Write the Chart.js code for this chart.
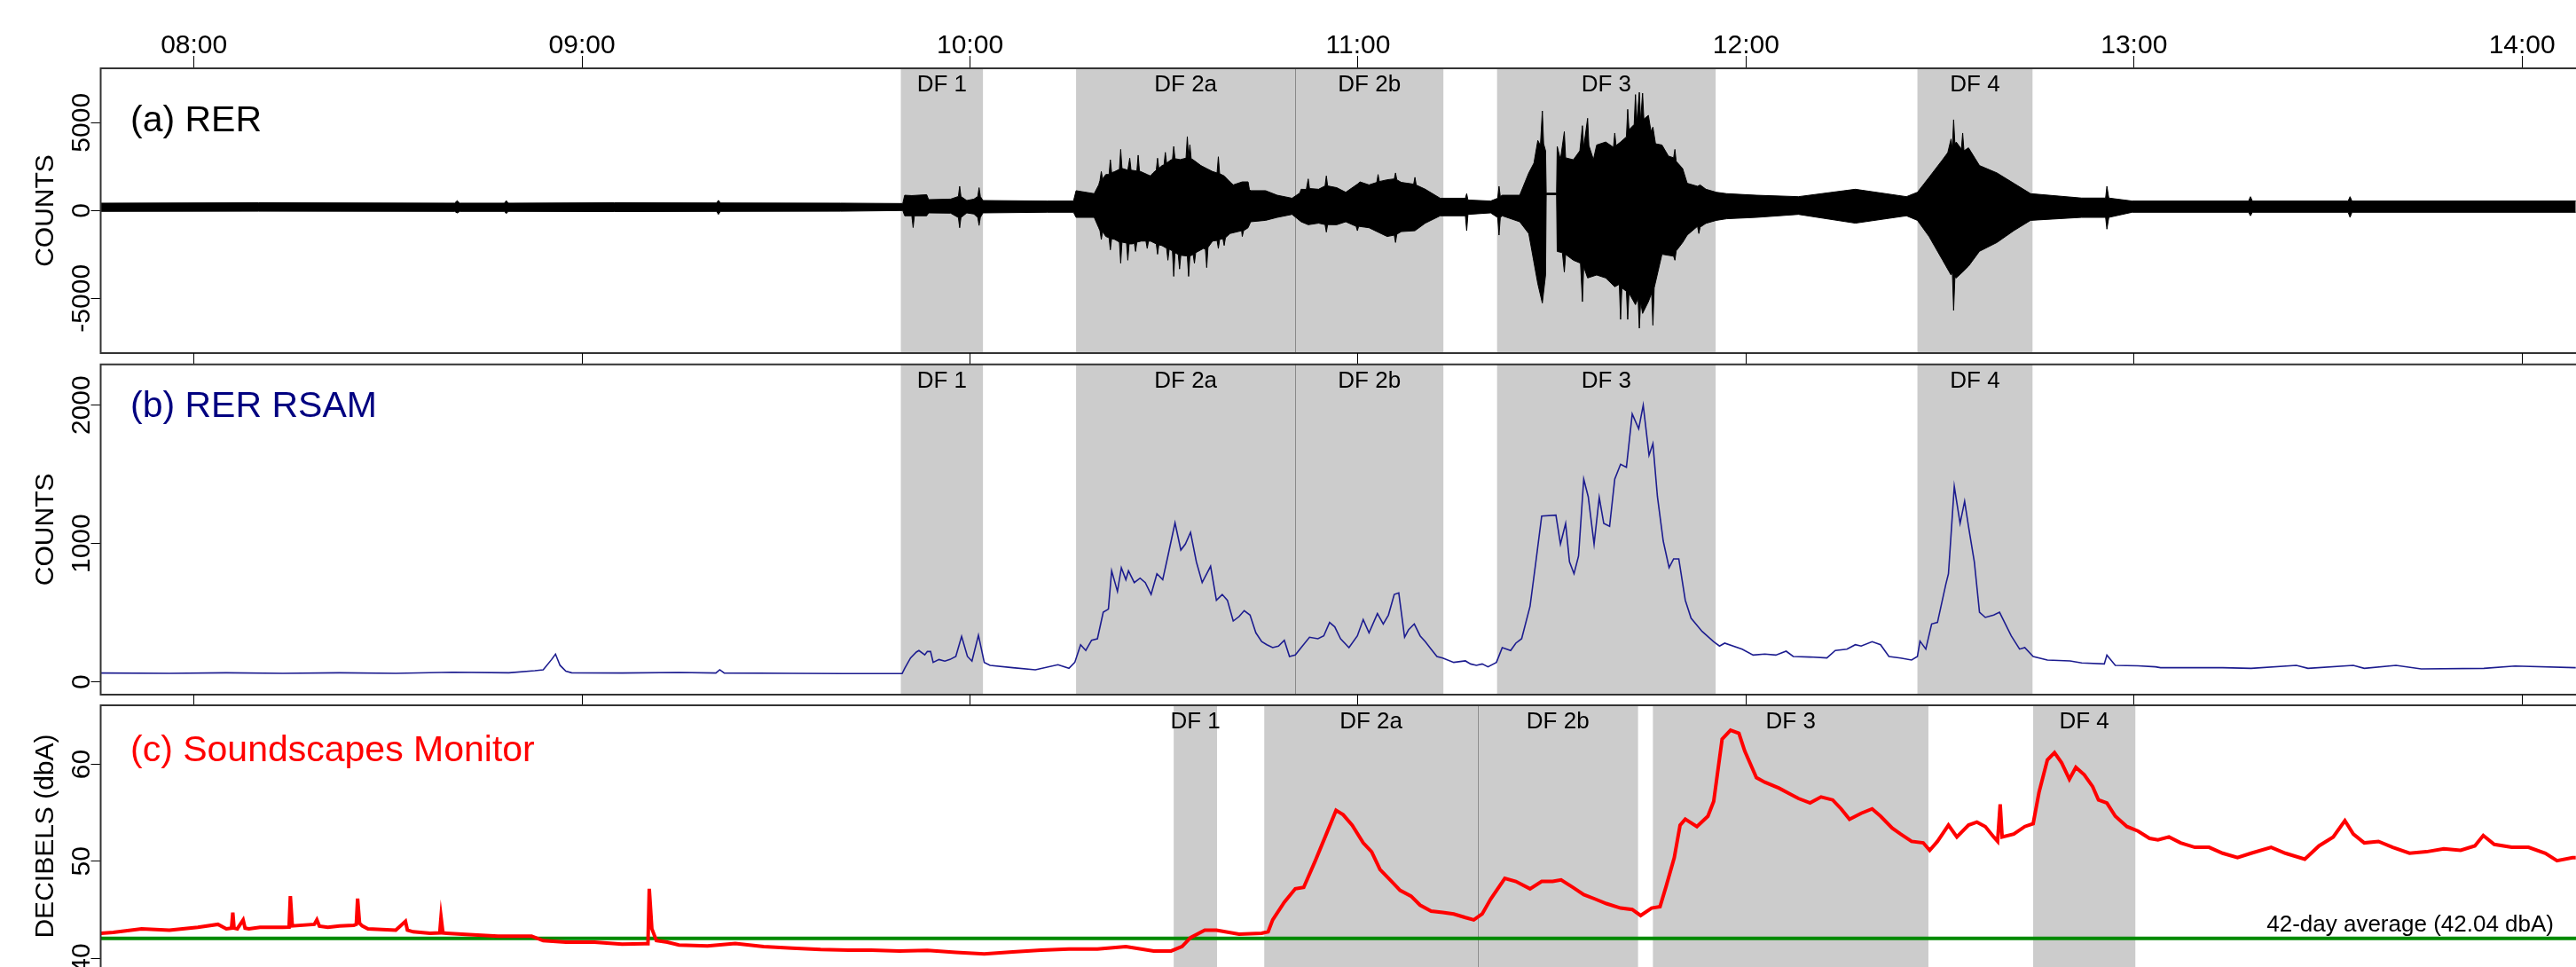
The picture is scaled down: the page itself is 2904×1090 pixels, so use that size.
<!DOCTYPE html>
<html>
<head>
<meta charset="utf-8">
<script src="https://cdn.jsdelivr.net/npm/chart.js@4.4.1/dist/chart.umd.min.js"></script>
<style>
  body { margin: 0; background: #fff; width: 2904px; height: 1090px; overflow: hidden; position: relative; }
  .panel { position: absolute; left: 0; width: 2904px; }
</style>
</head>
<body>
<div class="panel" style="top:0;height:400px"><canvas id="rerChart"></canvas></div>
<div class="panel" style="top:398px;height:387px"><canvas id="rsamChart"></canvas></div>
<div class="panel" style="top:783px;height:307px"><canvas id="soundChart"></canvas></div>

<script>
// time axis, minutes after midnight
const hourTicks = [480, 540, 600, 660, 720, 780, 840];
const hourLabels = ['08:00', '09:00', '10:00', '11:00', '12:00', '13:00', '14:00'];
const xMin = 465.57;
const xMax = 848.34;

// debris flow windows (minutes)
const dfNames = ['DF 1', 'DF 2a', 'DF 2b', 'DF 3', 'DF 4'];
const dfSeisStart = [589.3, 616.4, 650.3, 681.5, 746.5];
const dfSeisEnd = [602.0, 650.3, 673.2, 715.3, 764.3];
const dfSoundStart = [631.5, 645.5, 678.5, 705.6, 764.4];
const dfSoundEnd = [638.2, 678.5, 703.3, 748.2, 780.2];

// (a) RER seismogram, upper envelope (counts)
const rerUpTime = [
  465.6, 490.0, 520.3, 520.7, 521.1, 528.0, 528.3, 528.6, 545.0, 560.8,
  561.1, 561.4, 580.0, 589.6, 589.9, 591.0, 593.3, 593.6, 597.0, 598.2,
  598.4, 598.6, 599.5, 600.6, 601.2, 601.4, 601.6, 602.0, 611.9, 616.0,
  616.4, 619.2, 619.9, 620.1, 620.3, 620.5, 621.0, 621.5, 621.7, 621.9,
  622.4, 623.1, 623.3, 623.5, 624.4, 624.7, 624.9, 625.8, 626.0, 626.2,
  627.4, 627.9, 628.3, 628.8, 629.0, 629.2, 629.7, 630.0, 630.2, 630.4,
  631.1, 631.3, 631.5, 631.7, 632.5, 633.4, 633.6, 633.8, 634.0, 634.2,
  634.5, 635.7, 636.6, 637.5, 638.2, 638.4, 638.6, 639.3, 640.2, 640.7,
  642.1, 643.0, 643.2, 643.4, 645.7, 647.5, 649.8,
  651.0, 651.2, 652.0, 652.3, 652.5, 653.9, 654.9, 655.1, 655.3, 656.7,
  658.1, 659.9, 660.3, 661.7, 662.9, 663.1, 663.3, 664.5, 665.6, 665.8,
  666.0, 666.7, 668.6, 668.8, 669.0, 670.4, 672.7,
  676.6, 676.8, 677.0, 680.5, 681.6, 681.8, 682.0, 682.3, 685.0, 686.4,
  687.2, 687.8, 688.2, 688.5, 688.7, 689.0, 689.1, 690.7,
  690.8, 691.3, 691.9, 692.1, 693.3, 694.3, 694.7, 694.9, 695.5, 695.7,
  696.4, 696.9, 698.3, 699.5, 699.7, 699.9, 700.6, 701.5, 701.7, 701.9,
  702.7, 702.9, 703.1, 703.5, 703.7, 704.0, 704.2, 704.9, 705.3, 705.6,
  706.0, 707.0, 708.0, 708.8, 709.0, 709.2, 710.2, 710.9, 712.5, 712.9,
  713.8, 715.4, 717.0, 721.6, 728.1, 736.9, 744.8,
  746.5, 748.3, 750.4, 751.2, 751.7, 751.9, 752.1, 752.3, 752.5, 753.3,
  753.5, 753.7, 754.4, 756.1, 758.8, 761.4, 764.0,
  771.9, 775.6, 775.8, 776.1, 779.7, 797.7, 798.0, 798.3, 813.1, 813.4,
  813.7, 848.3
];
const rerUp = [
  420, 440, 420, 560, 420, 420, 560, 420, 440, 430,
  580, 430, 420, 400, 870, 850, 900, 620, 650, 800,
  1380, 800, 570, 650, 800, 1300, 800, 570, 540, 540,
  1130, 960, 1460, 1715, 2220, 1800, 2050, 2050, 2890, 2150,
  2220, 2350, 3480, 2400, 2300, 2980, 2300, 2250, 3150, 2250,
  2050, 1970, 2140, 2300, 2980, 2400, 2560, 2600, 3310, 2700,
  2890, 2890, 3650, 2950, 2900, 2980, 4210, 3000, 3740, 2950,
  2890, 2560, 2390, 2220, 2140, 3060, 2100, 1970, 1630, 1460,
  1630, 1630, 1200, 1130, 1130, 870, 700,
  1000, 1210, 1200, 1800, 1250, 1210, 1400, 1970, 1400, 1300,
  1040, 1500, 1630, 1460, 1600, 2050, 1650, 1750, 1800, 2140,
  1750, 1600, 1500, 1890, 1450, 1210, 700,
  700, 960, 600, 540, 700, 1380, 800, 870, 870, 2140,
  2700, 3990, 3700, 5670, 3800, 3400, 990, 990,
  3650, 2900, 4490, 3000, 2890, 3400, 4830, 3600, 5250, 3700,
  2900, 3730, 3900, 3600, 4410, 3700, 3900, 4200, 5760, 4600,
  4900, 6600, 5000, 6730, 5100, 6680, 5200, 5420, 4500, 4750,
  3800, 3730, 3100, 3000, 3480, 2800, 2390, 1550, 1380, 1460,
  1210, 1040, 960, 870, 790, 1210, 790,
  1040, 1890, 2900, 3300, 4070, 3500, 5170, 3800, 3900, 3500,
  4410, 3400, 3570, 2560, 2140, 1550, 960,
  710, 710, 1380, 710, 540, 540, 790, 540, 540, 790,
  540, 540
];

// (a) lower envelope (counts)
const rerDownTime = [
  465.6, 490.0, 520.3, 520.7, 521.1, 528.0, 528.3, 528.6, 545.0, 560.8,
  561.1, 561.4, 580.0, 589.6, 589.9, 591.0, 591.2, 591.4, 593.3, 593.6,
  597.0, 598.2, 598.4, 598.6, 599.5, 600.6, 601.2, 601.4, 601.6, 602.0,
  611.9, 616.0,
  616.4, 619.2, 619.9, 620.1, 620.3, 620.5, 621.0, 621.5, 621.7, 621.9,
  622.4, 623.1, 623.3, 623.5, 624.2, 624.4, 624.6, 625.1, 625.4, 625.6,
  625.8, 626.5, 627.2, 627.4, 627.6, 627.9, 628.8, 629.0, 629.2, 629.7,
  630.4, 630.6, 630.8, 631.3, 631.5, 631.7, 632.2, 632.4, 632.6, 633.4,
  633.6, 633.8, 634.0, 634.5, 634.7, 634.9, 636.1, 636.4, 636.6, 636.8,
  637.5, 638.2, 638.4, 638.6, 639.1, 639.3, 639.5, 640.2, 642.0, 642.1,
  642.3, 643.0, 643.4, 645.7, 647.5, 649.8,
  651.2, 652.3, 653.9, 654.9, 655.1, 655.3, 656.7, 658.1, 659.7, 659.9,
  660.1, 661.7, 663.1, 664.5, 665.6, 665.8, 666.0, 666.7, 668.8, 670.4,
  672.7,
  676.6, 676.8, 677.0, 680.5, 681.6, 681.8, 682.0, 682.3, 685.0, 686.4,
  687.8, 688.5, 689.0, 689.1, 690.7,
  690.8, 691.6, 691.9, 692.1, 693.3, 694.4, 694.7, 694.9, 695.5, 696.9,
  698.3, 699.7, 700.4, 700.6, 700.8, 701.5, 701.7, 701.9, 702.9, 703.3,
  703.5, 703.7, 704.0, 704.9, 705.4, 705.6, 705.8, 707.0, 708.8, 709.0,
  709.2, 710.2, 710.9, 712.5, 712.7, 712.9, 713.8, 715.4, 717.0, 721.6,
  728.1, 736.9, 744.8,
  746.5, 748.3, 750.4, 751.7, 751.9, 752.1, 752.3, 752.5, 753.5, 754.4,
  756.1, 758.8, 761.4, 764.0,
  771.9, 775.6, 775.8, 776.1, 779.7, 797.7, 798.0, 798.3, 813.1, 813.4,
  813.7, 848.3
];
const rerDown = [
  -50, -40, -50, -140, -50, -50, -170, -50, -60, -50,
  -220, -50, -40, 0, -300, -300, -970, -300, -300, -135,
  -150, -400, -980, -400, -135, -200, -400, -850, -400, -135,
  -100, -100,
  -390, -390, -980, -1150, -1650, -1200, -1480, -1550, -2240, -1600,
  -1650, -1800, -3000, -1800, -1850, -2830, -1900, -1900, -1850, -2330,
  -1800, -1740, -1740, -2160, -1750, -1740, -1900, -2490, -1950, -2000,
  -2150, -2830, -2200, -2300, -3750, -2400, -2500, -3330, -2550, -2580,
  -2580, -3750, -2600, -2500, -3000, -2400, -2160, -2200, -3250, -2100,
  -1740, -1700, -2160, -1650, -1600, -1990, -1550, -1310, -1150, -1480,
  -1150, -980, -640, -560, -390, -220,
  -640, -810, -720, -800, -1230, -800, -810, -640, -900, -1150,
  -900, -980, -1230, -1480, -1400, -1820, -1350, -1200, -1150, -720,
  -300,
  -300, -1150, -220, -135, -400, -1400, -400, -300, -640, -1310,
  -4170, -5270, -3670, 900, 900,
  -2330, -2400, -3500, -2500, -2830, -3000, -5190, -3200, -3840, -3670,
  -3840, -4340, -4200, -6200, -4400, -4600, -6200, -4700, -5360, -5000,
  -6700, -5200, -5860, -5190, -4700, -6530, -4400, -2490, -2600, -2830,
  -2300, -1820, -1400, -900, -1310, -950, -730, -560, -470, -390,
  -220, -720, -300,
  -560, -1480, -2830, -3670, -3500, -5690, -3800, -3840, -3500, -3170,
  -2320, -1820, -1150, -560,
  -390, -390, -1060, -390, -100, -100, -300, -100, -100, -390,
  -100, -100
];

// (b) RER RSAM (counts)
const rsamTime = [
  465.6, 476.2, 485.0, 493.7, 502.5, 511.2, 520.0, 528.7, 532.7, 534.0,
  535.3, 535.9, 536.6, 537.5, 538.4, 546.2, 555.0, 560.7, 561.3, 562.0,
  572.5, 580.3, 589.5, 589.9, 590.8, 591.7, 592.1, 593.0, 593.4, 593.9,
  594.3, 595.2, 596.1, 596.9, 597.8, 598.7, 599.6, 600.3, 601.3, 602.2,
  603.1, 606.6, 610.1, 613.6, 615.3, 616.2, 617.1, 617.9, 618.8, 619.7,
  620.6, 621.4, 621.9, 622.8, 623.4, 624.1, 624.5, 625.4, 626.3, 627.1,
  628.0, 628.9, 629.8, 630.6, 631.7, 632.6, 633.3, 634.1, 635.0, 635.9,
  637.2, 638.1, 639.0, 639.8, 640.7, 641.6, 642.4, 643.3, 644.2, 645.1,
  645.9, 646.8, 647.7, 648.6, 649.4, 650.3, 651.2, 652.5, 653.8, 654.7,
  655.6, 656.4, 657.3, 658.6, 659.9, 660.8, 661.7, 663.0, 663.9, 664.7,
  665.6, 666.3, 667.2, 667.8, 668.7, 669.6, 670.4, 671.3, 672.2, 673.1,
  674.8, 676.6, 677.4, 678.3, 679.2, 680.1, 681.4, 682.3, 683.6, 684.4,
  685.3, 686.6, 687.5, 688.4, 690.6, 691.3, 692.1, 692.7, 693.4, 694.1,
  694.9, 695.6, 696.5, 697.3, 698.0, 698.9, 699.7, 700.6, 701.5, 702.4,
  703.4, 704.1, 705.0, 705.6, 706.3, 707.2, 708.1, 708.8, 709.6, 710.6,
  711.5, 713.2, 715.0, 715.9, 716.7, 719.4, 721.1, 722.9, 724.6, 726.2,
  727.3, 729.9, 732.5, 733.8, 735.6, 736.9, 737.8, 739.5, 740.8, 742.1,
  743.9, 745.6, 746.5, 746.9, 747.8, 748.7, 749.6, 750.9, 751.3, 752.2,
  753.1, 753.8, 754.4, 755.3, 756.1, 757.0, 758.3, 759.2, 760.1, 761.0,
  762.3, 763.1, 764.4, 766.6, 770.1, 771.9, 775.4, 775.8, 777.1, 780.6,
  783.3, 784.1, 793.7, 798.1, 805.1, 806.9, 813.9, 815.6, 820.5, 824.4,
  834.1, 838.9, 848.3
];
const rsamValue = [
  64, 62, 66, 62, 66, 62, 70, 66, 81, 88,
  162, 201, 120, 77, 66, 64, 68, 64, 88, 64,
  62, 60, 60, 98, 173, 216, 227, 195, 220, 220,
  141, 162, 150, 162, 184, 329, 184, 150, 338, 141,
  120, 103, 88, 124, 98, 141, 269, 227, 301, 312,
  504, 526, 803, 654, 825, 739, 803, 718, 750, 718,
  632, 782, 739, 910, 1150, 953, 996, 1081, 868, 718,
  836, 590, 632, 590, 440, 472, 515, 483, 355, 291,
  269, 248, 259, 301, 184, 195, 248, 323, 312, 333,
  430, 398, 312, 248, 333, 451, 355, 494, 419, 483,
  632, 643, 323, 376, 419, 333, 291, 237, 184, 173,
  141, 152, 130, 120, 130, 109, 141, 248, 227, 280,
  312, 547, 868, 1199, 1205, 996, 1145, 868, 782, 910,
  1466, 1338, 996, 1333, 1145, 1124, 1466, 1573, 1551, 1936,
  1829, 2000, 1638, 1722, 1338, 1017, 825, 889, 889, 591,
  461, 365, 290, 259, 280, 237, 194, 201, 194, 222,
  184, 180, 173, 227, 237, 269, 259, 291, 269, 184,
  173, 158, 184, 295, 237, 419, 430, 707, 782, 1413,
  1145, 1306, 1124, 868, 504, 466, 483, 504, 419, 333,
  237, 248, 184, 158, 152, 137, 130, 194, 120, 116,
  109, 103, 103, 98, 120, 98, 120, 98, 120, 94,
  98, 115, 103
];

// (c) Soundscapes monitor (dbA)
const soundTime = [
  465.6, 467.5, 471.9, 476.2, 480.6, 483.7, 485.0, 485.8, 486.0, 486.2,
  486.7, 487.6, 487.9, 488.5, 490.2, 493.7, 494.7, 494.9, 495.2, 498.6,
  499.0, 499.4, 500.7, 502.5, 504.7, 505.1, 505.3, 505.6, 506.0, 506.9,
  511.2, 512.7, 513.0, 513.9, 516.5, 518.0, 518.2, 518.5, 519.1, 522.6,
  527.0, 528.7, 532.2, 534.0, 537.5, 541.9, 546.2, 549.7, 550.2, 550.4,
  550.8, 551.5, 553.2, 555.0, 559.4, 563.7, 568.1, 572.5, 576.9, 581.2,
  584.7, 589.1, 593.4, 597.8, 602.2, 606.6, 611.0, 615.3, 619.7, 624.1,
  628.4, 631.1, 632.8, 634.1, 636.3, 638.1, 641.6, 645.1, 646.1, 646.8,
  648.6, 650.3, 651.6, 653.4, 655.1, 656.6, 657.7, 659.1, 660.8, 662.1,
  663.4, 665.2, 666.5, 668.2, 669.6, 671.3, 673.1, 674.8, 676.6, 677.9,
  679.2, 680.5, 682.7, 684.4, 686.6, 688.4, 690.1, 691.4, 693.2, 694.9,
  696.7, 698.4, 700.6, 702.4, 703.7, 705.4, 706.7, 707.6, 708.9, 709.8,
  710.6, 712.4, 714.1, 715.0, 716.3, 717.6, 718.9, 719.8, 721.6, 722.9,
  725.1, 726.8, 728.1, 729.9, 731.6, 733.4, 734.7, 736.0, 737.8, 739.5,
  740.8, 742.6, 743.9, 745.6, 747.4, 748.4, 749.6, 751.3, 752.6, 754.4,
  755.7, 757.0, 758.3, 758.9, 759.3, 759.6, 761.4, 763.1, 764.4, 765.3,
  766.6, 767.7, 768.8, 770.0, 771.0, 772.3, 773.6, 774.5, 775.8, 777.1,
  778.9, 780.6, 782.4, 783.7, 785.4, 787.2, 789.4, 791.6, 793.7, 796.0,
  798.1, 801.2, 803.4, 806.4, 808.6, 810.8, 812.6, 813.9, 815.6, 817.8,
  820.0, 822.6, 825.2, 827.9, 830.5, 832.7, 834.0, 835.7, 838.4, 841.0,
  843.6, 845.4, 847.8, 848.3
];
const soundDb = [
  42.57, 42.66, 43.03, 42.88, 43.18, 43.49, 43.03, 43.10, 44.71, 43.10,
  43.03, 43.95, 43.10, 43.03, 43.18, 43.18, 43.20, 46.40, 43.33, 43.49,
  43.95, 43.30, 43.18, 43.33, 43.39, 43.50, 46.15, 43.60, 43.33, 43.03,
  42.88, 43.80, 42.90, 42.72, 42.57, 42.60, 44.25, 42.60, 42.57, 42.42,
  42.27, 42.27, 42.27, 41.81, 41.65, 41.65, 41.44, 41.50, 41.50, 47.16,
  43.03, 41.81, 41.65, 41.35, 41.26, 41.50, 41.20, 41.04, 40.89, 40.83,
  40.83, 40.74, 40.80, 40.59, 40.44, 40.65, 40.83, 40.95, 40.95, 41.20,
  40.74, 40.74, 41.20, 42.12, 42.88, 42.88, 42.48, 42.57, 42.72, 43.95,
  45.78, 47.16, 47.31, 50.06, 52.81, 55.26, 54.80, 53.73, 51.90, 50.98,
  49.15, 47.92, 47.00, 46.40, 45.47, 44.86, 44.71, 44.56, 44.19, 43.95,
  44.56, 46.09, 48.23, 47.92, 47.16, 47.92, 47.92, 48.08, 47.31, 46.55,
  46.09, 45.63, 45.17, 45.02, 44.40, 45.17, 45.32, 47.31, 50.37, 53.73,
  54.34, 53.58, 54.65, 56.18, 62.60, 63.52, 63.21, 61.38, 58.63, 58.16,
  57.55, 56.94, 56.48, 56.02, 56.64, 56.33, 55.41, 54.34, 54.95, 55.41,
  54.65, 53.42, 52.81, 52.05, 51.90, 51.13, 52.05, 53.73, 52.51, 53.73,
  54.04, 53.58, 52.51, 52.05, 55.87, 52.51, 52.81, 53.58, 53.88, 57.10,
  60.46, 61.22, 60.16, 58.47, 59.69, 58.93, 57.71, 56.33, 56.02, 54.65,
  53.58, 53.12, 52.36, 52.20, 52.51, 51.90, 51.44, 51.44, 50.83, 50.37,
  50.83, 51.44, 50.83, 50.21, 51.59, 52.51, 54.19, 52.81, 51.90, 52.05,
  51.44, 50.83, 50.98, 51.29, 51.13, 51.59, 52.66, 51.74, 51.44, 51.44,
  50.83, 50.06, 50.37, 50.37
];
const avgDb = 42.04;

const FONT = '"Liberation Sans", Arial, Helvetica, sans-serif';

function pts(xs, ys) {
  return xs.map((x, i) => ({ x: x, y: ys[i] }));
}

// shading, frame and all the R-style text
function panelPlugin(opt) {
  return {
    id: 'panel',
    beforeDraw(chart) {
      const { ctx, chartArea: a, scales: { x } } = chart;
      ctx.save();
      ctx.fillStyle = '#cccccc';
      opt.starts.forEach((s, i) => {
        const x1 = x.getPixelForValue(s);
        const x2 = x.getPixelForValue(opt.ends[i]);
        ctx.fillRect(x1, a.top, x2 - x1, a.bottom - a.top);
      });
      // split between DF 2a and DF 2b
      const xb = Math.round(x.getPixelForValue(opt.ends[1])) + 0.5;
      ctx.strokeStyle = '#8a8a8a';
      ctx.lineWidth = 1;
      ctx.beginPath();
      ctx.moveTo(xb, a.top);
      ctx.lineTo(xb, a.bottom);
      ctx.stroke();
      ctx.restore();
    },
    afterDraw(chart) {
      const { ctx, chartArea: a, scales: { x, y } } = chart;
      ctx.save();
      ctx.strokeStyle = '#333';
      ctx.lineWidth = 2;
      ctx.beginPath();
      ctx.moveTo(a.right, a.top);
      ctx.lineTo(a.left, a.top);
      ctx.lineTo(a.left, a.bottom);
      if (opt.bottomLine) ctx.lineTo(a.right, a.bottom);
      ctx.stroke();

      ctx.fillStyle = '#000';
      ctx.textAlign = 'center';
      ctx.textBaseline = 'alphabetic';
      ctx.font = '26px ' + FONT;
      dfNames.forEach((n, i) => {
        const xc = (x.getPixelForValue(opt.starts[i]) + x.getPixelForValue(opt.ends[i])) / 2;
        ctx.fillText(n, xc, a.top + 26);
      });

      ctx.font = '30px ' + FONT;
      opt.yTicks.forEach(v => {
        ctx.save();
        ctx.translate(101, y.getPixelForValue(v));
        ctx.rotate(-Math.PI / 2);
        ctx.fillText(String(v), 0, 0);
        ctx.restore();
      });
      ctx.save();
      ctx.translate(60, (a.top + a.bottom) / 2);
      ctx.rotate(-Math.PI / 2);
      ctx.fillText(opt.title, 0, 0);
      ctx.restore();

      ctx.font = '41px ' + FONT;
      ctx.textAlign = 'left';
      ctx.fillStyle = opt.labelColor;
      ctx.fillText(opt.label, 147, a.top + opt.labelDy);

      if (opt.extra) opt.extra(chart);
      ctx.restore();
    }
  };
}

function makeChart(id, opt, datasets) {
  return new Chart(document.getElementById(id), {
    type: 'line',
    data: { datasets: datasets },
    options: {
      responsive: true,
      maintainAspectRatio: false,
      animation: false,
      layout: { padding: { left: 0, right: 0, top: 0, bottom: opt.padBottom } },
      plugins: { legend: { display: false }, tooltip: { enabled: false } },
      elements: { point: { radius: 0 }, line: { tension: 0 } },
      scales: {
        x: {
          type: 'linear',
          position: 'top',
          min: xMin,
          max: xMax,
          afterBuildTicks: s => { s.ticks = hourTicks.map(v => ({ value: v })); },
          afterFit: s => { s.height = opt.topH; },
          grid: { drawOnChartArea: false, drawTicks: true, tickLength: opt.tickLen, color: '#000', lineWidth: 1 },
          border: { display: false },
          ticks: { display: false }
        },
        y: {
          type: 'linear',
          position: 'left',
          min: opt.yMin,
          max: opt.yMax,
          afterBuildTicks: s => { s.ticks = opt.yTicks.map(v => ({ value: v })); },
          afterFit: s => { s.width = 113.5; },
          grid: { drawOnChartArea: false, drawTicks: true, tickLength: 11, color: '#000', lineWidth: 1 },
          border: { display: false },
          ticks: { display: false }
        }
      }
    },
    plugins: [panelPlugin(opt)]
  });
}

// (a)
makeChart('rerChart', {
  topH: 77, tickLen: 14, padBottom: 2, bottomLine: true,
  yMin: -8116, yMax: 8096, yTicks: [-5000, 0, 5000],
  starts: dfSeisStart, ends: dfSeisEnd,
  title: 'COUNTS', label: '(a) RER', labelColor: '#000', labelDy: 71,
  extra(chart) {
    const { ctx, scales: { x } } = chart;
    ctx.fillStyle = '#000';
    ctx.font = '30px ' + FONT;
    ctx.textAlign = 'center';
    hourTicks.forEach((t, i) => ctx.fillText(hourLabels[i], x.getPixelForValue(t), 60));
  }
}, [
  { data: pts(rerUpTime, rerUp), borderColor: '#000', borderWidth: 1, backgroundColor: '#000', fill: '+1' },
  { data: pts(rerDownTime, rerDown), borderColor: '#000', borderWidth: 1, fill: false }
]);

// (b)
makeChart('rsamChart', {
  topH: 12.7, tickLen: 12.7, padBottom: 2, bottomLine: true,
  yMin: -92, yMax: 2295, yTicks: [0, 1000, 2000],
  starts: dfSeisStart, ends: dfSeisEnd,
  title: 'COUNTS', label: '(b) RER RSAM', labelColor: '#000080', labelDy: 59
}, [
  { data: pts(rsamTime, rsamValue), borderColor: '#1c1c8f', borderWidth: 1.6, fill: false }
]);

// (c)
makeChart('soundChart', {
  topH: 12, tickLen: 12, padBottom: 0, bottomLine: false,
  yMin: 39.085, yMax: 66.1, yTicks: [40, 50, 60],
  starts: dfSoundStart, ends: dfSoundEnd,
  title: 'DECIBELS (dbA)', label: '(c) Soundscapes Monitor', labelColor: '#ff0000', labelDy: 63,
  extra(chart) {
    const { ctx } = chart;
    ctx.fillStyle = '#000';
    ctx.font = '26px ' + FONT;
    ctx.textAlign = 'right';
    ctx.fillText('42-day average (42.04 dbA)', 2879, 267);
  }
}, [
  { data: pts(soundTime, soundDb), borderColor: '#ff0000', borderWidth: 4, fill: false },
  { data: [{ x: xMin, y: avgDb }, { x: xMax, y: avgDb }], borderColor: '#008a00', borderWidth: 4, fill: false }
]);
</script>
</body>
</html>
